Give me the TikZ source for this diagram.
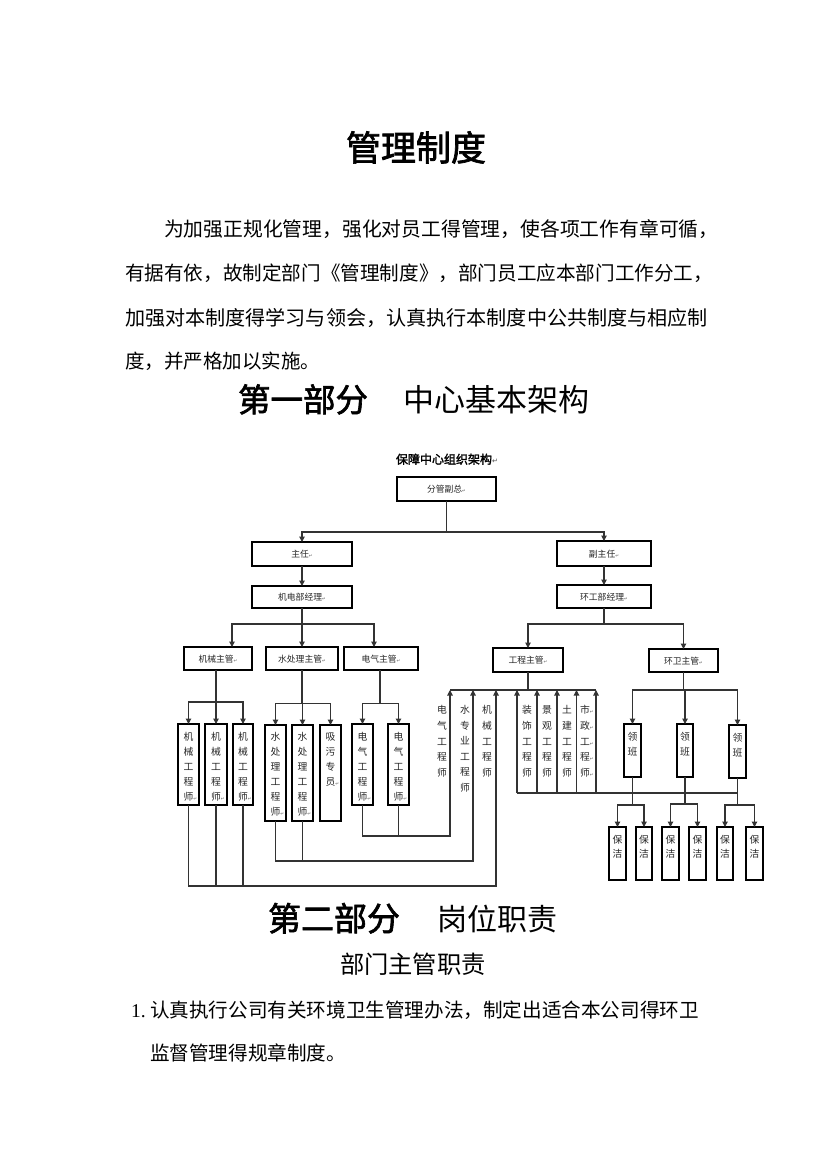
\documentclass[tikz,border=0pt]{standalone}
\usepackage{fontspec}
\setmainfont{Noto Sans CJK SC}
\newfontfamily\cjk{Noto Sans CJK SC}
\newfontfamily\cjkb[FakeBold=2]{Noto Sans CJK SC}
\newfontfamily\djv{DejaVu Sans}
\newfontfamily\tms{Liberation Serif}
\usetikzlibrary{arrows.meta,calc}
\newcommand\pmk{{\djv\fontsize{4.5}{4.5}\selectfont\color{black!60}↵}}
\newcommand\pmkb{{\djv\fontsize{7}{7}\selectfont\color{black!70}↵}}
\newcommand\VB[5]{\node[vbox, minimum width={(#3-#2)*1pt}, minimum height={(#5-#4)*1pt}] (#1) at ({(#2+#3)/2},{(#4+#5)/2}) {};}
\newcommand\VT[5]{\foreach \c [count=\i] in {#5} \node[vch] (#1-\i) at (#2,{#3+#4*(\i-1)}) {\c};}
\begin{document}
\begin{tikzpicture}[x=1pt,y=-1pt,
  cj/.style={inner sep=0pt, outer sep=0pt, text height=0.88em, text depth=0.12em},
  box/.style={draw=black, line width=1.1pt, inner sep=0pt, outer sep=0pt, text height=0.88em, text depth=0.12em, font=\cjk\fontsize{8.8}{8.8}\selectfont, text=black!85},
  vbox/.style={draw=black, line width=1.1pt, inner sep=0pt, outer sep=0pt},
  vch/.style={cj, font=\cjk\fontsize{9.8}{9.8}\selectfont, text=black!85},
  conn/.style={draw=black!80, line width=1.05pt},
  arr/.style={conn, -{Triangle[length=5.5pt,width=5.5pt]}}]
\useasboundingbox (0,0) rectangle (826,1169);
\fill[white] (0,0) rectangle (826,1169);

% ---------- text ----------
\node[cj, font=\cjkb\fontsize{35}{35}\selectfont] (title) at (416,157) {管理制度};
\node[cj, anchor=west, font=\cjk\fontsize{19.8}{19.8}\selectfont] (p1) at (164,233) {为加强正规化管理，强化对员工得管理，使各项工作有章可循，};
\node[cj, anchor=west, font=\cjk\fontsize{19.6}{19.6}\selectfont] (p2) at (125,277) {有据有依，故制定部门《管理制度》，部门员工应本部门工作分工，};
\node[cj, anchor=west, font=\cjk\fontsize{20.1}{20.1}\selectfont] (p3) at (125,322) {加强对本制度得学习与领会，认真执行本制度中公共制度与相应制};
\node[cj, anchor=west, font=\cjk\fontsize{19.5}{19.5}\selectfont] (p4) at (125,365) {度，并严格加以实施。};
\node[cj, anchor=west, font=\cjkb\fontsize{32.5}{32.5}\selectfont] (h1a) at (238,408) {第一部分};
\node[cj, anchor=west, font=\cjk\fontsize{31}{31}\selectfont] (h1b) at (403,408) {中心基本架构};
\node[cj, anchor=west, font=\cjkb\fontsize{33}{33}\selectfont] (h2a) at (268,927) {第二部分};
\node[cj, anchor=west, font=\cjk\fontsize{30}{30}\selectfont] (h2b) at (437,927) {岗位职责};
\node[cj, anchor=west, font=\cjk\fontsize{24.3}{24.3}\selectfont] (h3) at (340,970) {部门主管职责};
\node[cj, anchor=west, font=\tms\fontsize{19.5}{19.5}\selectfont] (n1) at (131,1014) {1.};
\node[cj, anchor=west, font=\cjk\fontsize{19.6}{19.6}\selectfont] (i1) at (150,1014) {认真执行公司有关环境卫生管理办法，制定出适合本公司得环卫};
\node[cj, anchor=west, font=\cjk\fontsize{19.6}{19.6}\selectfont] (i2) at (150,1057) {监督管理得规章制度。};

% ---------- chart ----------
\node[cj, anchor=west, font=\cjkb\fontsize{12}{12}\selectfont] (ct) at (396,460) {保障中心组织架构\pmkb};

\node[box, minimum width=99pt, minimum height=24pt] (fg) at (446.5,489) {分管副总\pmk};
\node[box, minimum width=100pt, minimum height=24pt] (zr) at (302,554) {主任\pmk};
\node[box, minimum width=94pt, minimum height=25pt] (fzr) at (604,553.5) {副主任\pmk};
\node[box, minimum width=100pt, minimum height=22pt] (jd) at (302,597) {机电部经理\pmk};
\node[box, minimum width=94pt, minimum height=23pt] (hg) at (604,596.5) {环工部经理\pmk};
\node[box, minimum width=68pt, minimum height=23pt] (jx) at (218,658.5) {机械主管\pmk};
\node[box, minimum width=72pt, minimum height=23pt] (sc) at (302,658.5) {水处理主管\pmk};
\node[box, minimum width=74pt, minimum height=23pt] (dq) at (381,658.5) {电气主管\pmk};
\node[box, minimum width=70pt, minimum height=24pt] (gc) at (528,660) {工程主管\pmk};
\node[box, minimum width=69pt, minimum height=23pt] (hw) at (683.5,660.5) {环卫主管\pmk};

% vertical boxes
\VB{mj1}{178}{199}{724}{805}
\VB{mj2}{205}{227}{724}{805}
\VB{mj3}{233}{253}{724}{805}
\VB{sj1}{265}{286}{725}{821}
\VB{sj2}{292}{313}{725}{821}
\VB{xw}{320}{341}{725}{821}
\VB{dj1}{352}{373}{724}{805}
\VB{dj2}{388}{409}{724}{805}
\VB{lb1}{624}{641}{724}{777}
\VB{lb2}{677}{693}{724}{777}
\VB{lb3}{729}{746}{725}{778}
\VB{bj1}{609}{626}{827}{880}
\VB{bj2}{636}{652}{827}{880}
\VB{bj3}{662}{679}{827}{880}
\VB{bj4}{689}{706}{827}{880}
\VB{bj5}{717}{733}{827}{880}
\VB{bj6}{746}{763}{827}{880}

\VT{mt1}{188.5}{737}{15}{机,械,工,程,师\rlap{\pmk}}
\VT{mt2}{216}{737}{15}{机,械,工,程,师\rlap{\pmk}}
\VT{mt3}{243}{737}{15}{机,械,工,程,师\rlap{\pmk}}
\VT{st1}{275.5}{737}{15}{水,处,理,工,程,师\rlap{\pmk}}
\VT{st2}{302.5}{737}{15}{水,处,理,工,程,师\rlap{\pmk}}
\VT{xt}{330.5}{737}{15}{吸,污,专,员\rlap{\pmk}}
\VT{dt1}{362.5}{737}{15}{电,气,工,程,师\rlap{\pmk}}
\VT{dt2}{398.5}{737}{15}{电,气,工,程,师\rlap{\pmk}}
\VT{lt1}{632.5}{737}{15}{领,班}
\VT{lt2}{685}{737}{15}{领,班}
\VT{lt3}{737.5}{738}{15}{领,班}
\VT{bt1}{617.5}{840}{14}{保,洁}
\VT{bt2}{644}{840}{14}{保,洁}
\VT{bt3}{670.5}{840}{14}{保,洁}
\VT{bt4}{697.5}{840}{14}{保,洁}
\VT{bt5}{725}{840}{14}{保,洁}
\VT{bt6}{754.5}{840}{14}{保,洁}

% side labels
\VT{le}{442}{710}{15.6}{电,气,工,程,师}
\VT{ls}{465}{710}{15.5}{水,专,业,工,程,师}
\VT{lm}{487}{710}{15.6}{机,械,工,程,师}
\VT{rz}{527}{710}{15.6}{装,饰,工,程,师}
\VT{rj}{547}{710}{15.6}{景,观,工,程,师}
\VT{rt}{567}{710}{15.6}{土,建,工,程,师}
\VT{rs}{585}{710}{15.6}{市\rlap{\pmk},政\rlap{\pmk},工\rlap{\pmk},程\rlap{\pmk},师\rlap{\pmk}}

% ---------- connectors ----------
\draw[conn] (fg.south) -- ++(0,31) coordinate (b0);
\draw[arr] (b0) -| (zr.north);
\draw[arr] (b0) -| (fzr.north);
\draw[arr] (zr.south) -- (jd.north);
\draw[arr] (fzr.south) -- (hg.north);

\coordinate (jxin) at ($(jx.north)+(14,0)$);
\coordinate (dqin) at ($(dq.north)+(-7,0)$);
\draw[conn] (jd.south) -- ++(0,16) coordinate (b1);
\draw[arr] (b1) -| (jxin);
\draw[arr] (b1) -- (sc.north);
\draw[arr] (b1) -| (dqin);
\draw[conn] (hg.south) -- ++(0,16) coordinate (b2);
\draw[arr] (b2) -| (gc.north);
\draw[arr] (b2) -| (hw.north);

\draw[conn] (mj2.north |- jx.south) -- ++(0,32) coordinate (b3);
\draw[arr] (b3) -| (mj1.north);
\draw[arr] (b3) -- (mj2.north);
\draw[arr] (b3) -| (mj3.north);
\draw[conn] (sc.south) -- ++(0,33.5) coordinate (b4);
\draw[arr] (b4) -| (sj1.north);
\draw[arr] (b4) -| (sj2.north);
\draw[arr] (b4) -| (xw.north);
\draw[conn] ($(dq.south)+(-1,0)$) -- ++(0,33.5) coordinate (b5);
\draw[arr] (b5) -| (dj1.north);
\draw[arr] (b5) -| (dj2.north);

\draw[conn] (gc.south) -- ++(0,18) coordinate (b6);
\coordinate (gL) at ($(b6)+(-78,0)$);
\coordinate (gR) at ($(b6)+(68,0)$);
\draw[conn] (gL) -- (gR);

\coordinate (e1) at (450,836);
\coordinate (e2) at (473,861);
\coordinate (e3) at (496,886);
\draw[arr] (dj1.south) |- (e1) -- (e1 |- b6);
\draw[conn] (dj2.south) -- (dj2.south |- e1);
\draw[arr] (sj1.south) |- (e2) -- (e2 |- b6);
\draw[conn] (sj2.south) -- (sj2.south |- e2);
\draw[arr] (mj1.south) |- (e3) -- (e3 |- b6);
\draw[conn] (mj2.south) -- (mj2.south |- e3);
\draw[conn] (mj3.south) -- (mj3.south |- e3);

\coordinate (r1) at (517,793);
\coordinate (r2) at (537,793);
\coordinate (r3) at (557,793);
\coordinate (r4) at (576.5,793);
\coordinate (r5) at (596,793);
\foreach \r in {r1,r2,r3,r4,r5} \draw[arr] (\r) -- (\r |- b6);
\draw[conn] (r1) -- (lb3.south |- r1);

\draw[conn] (hw.south) -- ++(0,18) coordinate (b7);
\draw[arr] (b7) -| (lb1.north);
\draw[arr] (b7) -| (lb2.north);
\draw[arr] (b7) -| (lb3.north);

\draw[conn] (lb1.south) -- ++(0,28) coordinate (b8);
\draw[arr] (b8) -| (bj1.north);
\draw[arr] (b8) -| (bj2.north);
\draw[conn] (lb2.south) -- ++(0,27) coordinate (b9);
\draw[arr] (b9) -| (bj3.north);
\draw[arr] (b9) -| (bj4.north);
\draw[conn] (lb3.south) -- ++(0,27) coordinate (b10);
\draw[arr] (b10) -| (bj5.north);
\draw[arr] (b10) -| (bj6.north);
\end{tikzpicture}
\end{document}
